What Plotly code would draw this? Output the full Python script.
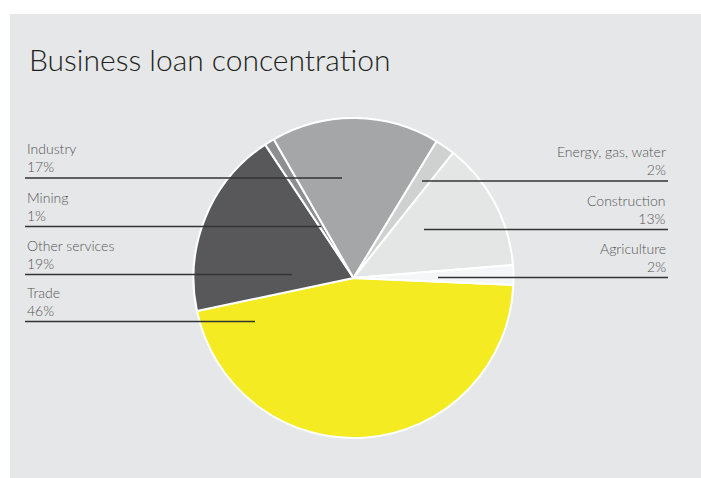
import plotly.graph_objects as go

# Business loan shares (%), listed clockwise starting from the Trade slice
sectors = ["Trade", "Other services", "Mining", "Industry",
           "Energy, gas, water", "Construction", "Agriculture"]
shares = [46, 19, 1, 17, 2, 13, 2]
colors = ["#f5eb22", "#58585a", "#8d8e90", "#a5a6a8",
          "#cfd0d0", "#e4e6e6", "#f5f6f7"]

# Label placement: which side, and y (px) of the leader line
label_side = ["left", "left", "left", "left", "right", "right", "right"]
line_y_px = [321.5, 274.5, 226.5, 178, 181, 229.5, 277.5]
line_end_px = [255, 292, 321, 342, 422, 424, 438]

W, H = 701, 478


def px(x):
    return x / W


def py(y):
    return 1 - y / H


cx, cy, r = 353.5, 278, 160

fig = go.Figure()
fig.add_trace(go.Pie(
    labels=sectors,
    values=shares,
    sort=False,
    direction="clockwise",
    rotation=92.5,
    marker=dict(colors=colors, line=dict(color="white", width=2)),
    textinfo="none",
    hoverinfo="label+percent",
    showlegend=False,
    domain=dict(x=[px(cx - r), px(cx + r)], y=[py(cy + r), py(cy - r)]),
))

shapes = [dict(type="rect", xref="paper", yref="paper",
               x0=px(10), x1=1.0, y0=0.0, y1=py(14),
               fillcolor="#e6e7e8", line=dict(width=0), layer="below")]

annotations = [dict(text="Business loan concentration", xref="paper", yref="paper",
                    x=px(27), y=py(79), xanchor="left", yanchor="bottom",
                    showarrow=False,
                    font=dict(family="Lato", size=30, color="#231f20", weight=300))]

for name, val, side, ly, lx in zip(sectors, shares, label_side, line_y_px, line_end_px):
    if side == "left":
        x0, x1, tx, anchor, align = 25, lx, 25, "left", "left"
    else:
        x0, x1, tx, anchor, align = lx, 668, 668, "right", "right"
    shapes.append(dict(type="line", xref="paper", yref="paper",
                       x0=px(x0), x1=px(x1), y0=py(ly), y1=py(ly),
                       line=dict(color="#333333", width=1.5)))
    annotations.append(dict(text=f"{name}<br>{val}%", xref="paper", yref="paper",
                            x=px(tx), y=py(ly - 1), xanchor=anchor, yanchor="bottom",
                            align=align, showarrow=False,
                            font=dict(family="Lato", size=14, color="#555555",
                                      weight=300)))

fig.update_layout(
    width=W, height=H,
    margin=dict(l=0, r=0, t=0, b=0),
    paper_bgcolor="white",
    plot_bgcolor="white",
    shapes=shapes,
    annotations=annotations,
)

fig.write_html("out.html")
